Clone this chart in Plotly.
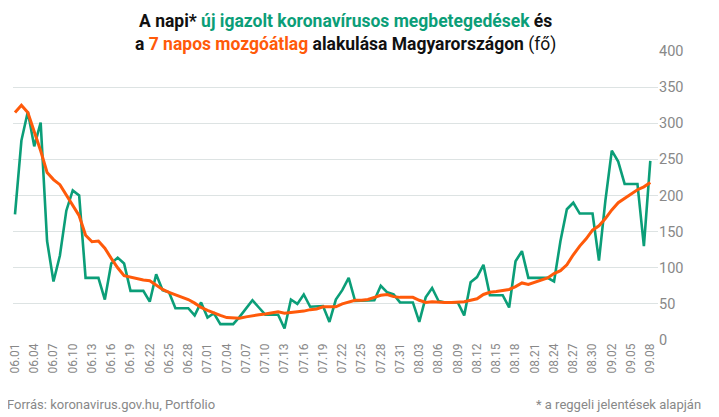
import plotly.graph_objects as go
import datetime as dt

start = dt.date(2020, 6, 1)
dates = [(start + dt.timedelta(days=i)).strftime("%m.%d") for i in range(100)]

daily = [174,276,316,268,301,137,81,117,179,207,200,86,86,86,56,106,114,106,68,68,
         68,53,91,69,66,44,44,44,34,52,31,37,22,22,22,32,43,55,45,35,
         35,35,16,56,50,63,46,47,47,25,56,69,86,54,54,54,55,75,66,63,
         52,52,52,25,59,72,54,52,52,52,34,80,87,104,62,62,62,45,109,123,
         86,86,86,86,81,137,181,190,175,175,175,110,193,262,247,216,216,216,130,248]
avg7 = [315,325,315,290,262,232,222,215,200,185,172,145,136,137,127,113,100,89,87,84,
        83,82,76,70,66,63,60,56,51,45,41,37,34,31,31,30,32,34,35,36,
        37,39,37,38,38,40,42,43,46,46,46,50,53,55,55,56,59,62,63,60,
        59,59,59,55,52,53,52,52,52,52,53,55,57,63,66,67,68,70,74,79,
        77,80,83,86,92,96,104,118,130,140,152,158,168,180,190,196,202,208,212,218]

GREEN = "#0b9e78"
ORANGE = "#ff5a0a"

fig = go.Figure()
fig.add_trace(go.Scatter(x=dates, y=daily, mode="lines", line=dict(color=GREEN, width=2.6)))
fig.add_trace(go.Scatter(x=dates, y=avg7, mode="lines", line=dict(color=ORANGE, width=3)))

fig.update_layout(
    width=719, height=417, showlegend=False,
    paper_bgcolor="white", plot_bgcolor="white",
    margin=dict(l=0, r=69, t=43, b=85),
    font=dict(family="Roboto, sans-serif", color="#888"),
    xaxis=dict(type="category", tickmode="array", tickvals=dates[::3], tickangle=-90,
               range=[-0.31, 100.2], showgrid=False, tickfont=dict(size=12, color="#888"),
               ticks="", showline=False),
    yaxis=dict(side="right", range=[0, 400], dtick=50, gridcolor="#dde3e3", gridwidth=1,
               zeroline=False, tickfont=dict(size=14.5, color="#888"), ticks=""),
)
fig.add_annotation(
    x=0.515, y=1.145, xref="paper", yref="paper", yanchor="top", xanchor="center", showarrow=False,
    align="center",
    text=("<b>A napi* <span style='color:%s'>új igazolt koronavírusos megbetegedések</span> és</b><br>"
          "<b>a <span style='color:%s'>7 napos mozgóátlag</span> alakulása Magyarországon</b> (fő)") % (GREEN, ORANGE),
    font=dict(size=17.5, color="#111", family="Roboto, sans-serif"),
)
fig.add_annotation(x=-0.012, y=-0.255, xref="paper", yref="paper", xanchor="left", yanchor="bottom",
                   showarrow=False, text="Forrás: koronavirus.gov.hu, Portfolio",
                   font=dict(size=13, color="#888"))
fig.add_annotation(x=1.07, y=-0.255, xref="paper", yref="paper", xanchor="right", yanchor="bottom",
                   showarrow=False, text="* a reggeli jelentések alapján",
                   font=dict(size=13, color="#888"))
fig.write_html("out.html")
